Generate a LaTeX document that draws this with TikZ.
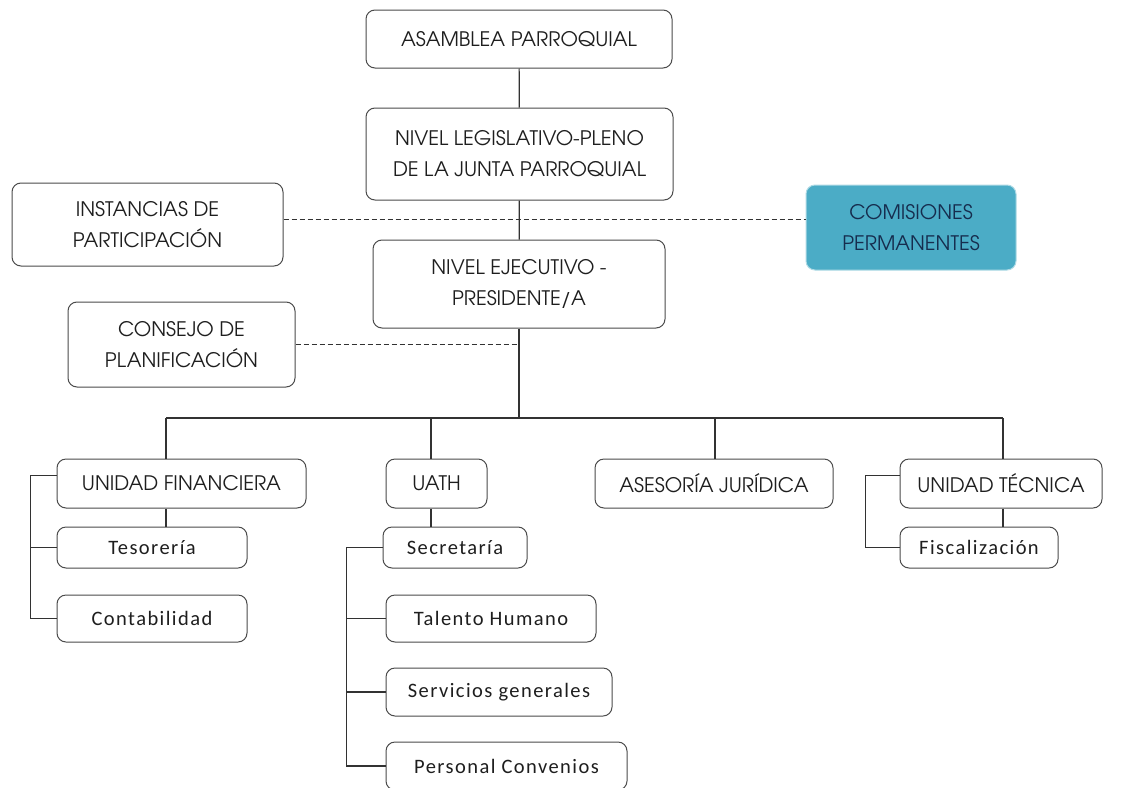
\documentclass[tikz,border=0pt]{standalone}
\usepackage{fontspec}
\usepackage{tikz}
\setmainfont{Carlito}
\newfontfamily\capsFont{TeX Gyre Adventor}
\newfontfamily\smallFont[LetterSpace=7]{Carlito}
\tikzstyle{chart} = [x = 1pt, y = -1pt]
\definecolor{lineColor}{RGB}{50,50,50}
\definecolor{boxColor}{RGB}{75,75,75}
\definecolor{textColor}{RGB}{30,30,30}
\definecolor{comisionColor}{RGB}{75,172,198}
\definecolor{comisionText}{RGB}{22,45,78}
\tikzstyle{boxStyle} = [draw=boxColor, fill=white, line width=1pt, rounded corners = 9pt, inner sep=0pt, align=center, text=textColor]
\tikzstyle{upperText} = [font=\capsFont\fontsize{20}{31}\selectfont]
\tikzstyle{lowerText} = [font=\smallFont\fontsize{20.5}{24}\selectfont]
\tikzstyle{linkLine} = [color=lineColor, line width=1.2pt]
\tikzstyle{dashLine} = [color=lineColor, line width=1.2pt, dash pattern=on 5pt off 3pt]
\newcommand{\upperBox}[6]{\node [boxStyle, upperText, minimum width=#4pt, minimum height=#5pt] (#1) at (#2,#3) {#6};}
\newcommand{\lowerBox}[6]{\node [boxStyle, lowerText, minimum width=#4pt, minimum height=#5pt] (#1) at (#2,#3) {#6};}

\begin{document}
\begin{tikzpicture}[chart]
  \useasboundingbox (0,0) rectangle (1123,787);
  \fill [white] (0,0) rectangle (1123,787);
  \clip (0,0) rectangle (1123,787);
  \upperBox{asamblea}{519}{39}{306}{58}{ASAMBLEA PARROQUIAL}
  \upperBox{legislativo}{519.5}{154}{307}{92}{NIVEL LEGISLATIVO-PLENO\\DE LA JUNTA PARROQUIAL}
  \upperBox{ejecutivo}{519}{284}{292}{88}{NIVEL EJECUTIVO -\\PRESIDENTE/A}
  \upperBox{instancias}{147.5}{224.5}{271}{83}{INSTANCIAS DE\\PARTICIPACIÓN}
  \upperBox{consejo}{181.5}{344.5}{227}{85}{CONSEJO DE\\PLANIFICACIÓN}
  \node [boxStyle, upperText, fill=comisionColor, draw=comisionColor!45!white, text=comisionText, minimum width=210pt, minimum height=85pt] (comisiones) at (911,227.5) {COMISIONES\\PERMANENTES};
  \upperBox{finanzas}{181.5}{483.5}{249}{49}{UNIDAD FINANCIERA}
  \upperBox{uath}{436.5}{483.5}{101}{49}{UATH}
  \upperBox{asesoria}{714}{483.5}{238}{49}{ASESORÍA JURÍDICA}
  \upperBox{tecnica}{1001}{483.5}{202}{49}{UNIDAD TÉCNICA}
  \lowerBox{tesoreria}{152}{547.5}{190}{41}{Tesorería}
  \lowerBox{contabilidad}{152}{618.5}{190}{47}{Contabilidad}
  \lowerBox{secretaria}{455}{547.5}{144}{41}{Secretaría}
  \lowerBox{talento}{491}{618.5}{210}{47}{Talento Humano}
  \lowerBox{servicios}{499}{692}{226}{48}{Servicios generales}
  \lowerBox{personal}{506.5}{766}{241}{48}{Personal Convenios}
  \lowerBox{fiscalizacion}{979}{547.5}{158}{41}{Fiscalización}
  \coordinate (colFin) at (166,418);
  \coordinate (colUath) at (431,418);
  \coordinate (colAses) at (715,418);
  \coordinate (colTec) at (1003,418);
  \draw [dashLine] ([yshift=5pt]instancias.east) -- ([yshift=5pt]instancias.east -| comisiones.west);
  \draw [dashLine] (consejo.east) -- (consejo.east -| ejecutivo.south);
  \draw [linkLine] (asamblea) -- (legislativo);
  \draw [linkLine] (legislativo) -- (ejecutivo);
  \draw [linkLine] (ejecutivo.south) -- (ejecutivo.south |- colFin);
  \draw [linkLine] (colFin) -- (colTec);
  \foreach \col/\unit in {colFin/finanzas, colUath/uath, colAses/asesoria, colTec/tecnica} {
    \draw [linkLine] (\col) -- (\col |- \unit.north);
  }
  \draw [linkLine] (colFin |- finanzas.south) -- (colFin |- tesoreria.north);
  \draw [linkLine] (colUath |- uath.south) -- (colUath |- secretaria.north);
  \draw [linkLine] (colTec |- tecnica.south) -- (colTec |- fiscalizacion.north);
  \draw [linkLine] ([yshift=8pt]finanzas.west) -- ++(-26,0) |- (contabilidad.west);
  \draw [linkLine] (tesoreria.west) -- ++(-26,0);
  \draw [linkLine] (secretaria.west) -- ++(-36,0) |- (personal.west);
  \draw [linkLine] (talento.west) -- ++(-39,0);
  \draw [linkLine] (servicios.west) -- ++(-39,0);
  \draw [linkLine] ([yshift=8pt]tecnica.west) -- ++(-34,0) |- (fiscalizacion.west);
\end{tikzpicture}
\end{document}
